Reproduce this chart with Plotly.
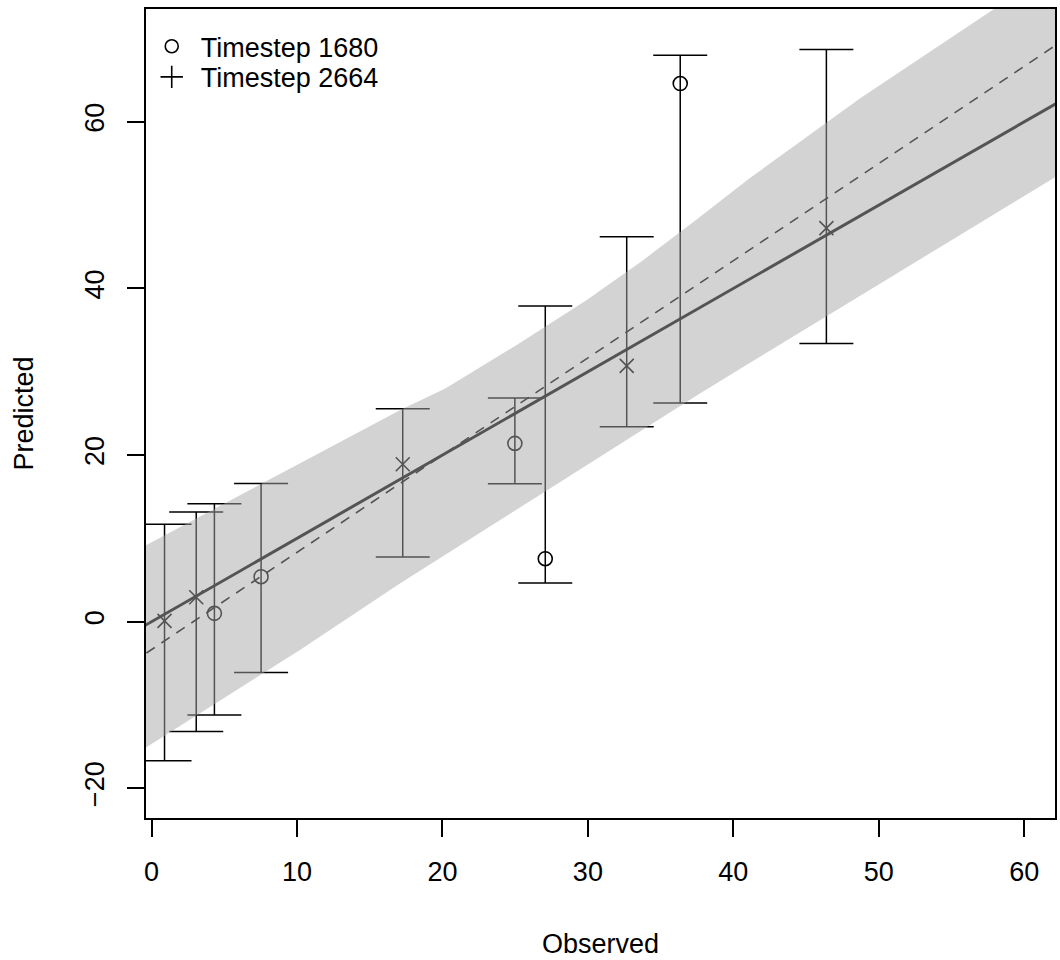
import plotly.graph_objects as go

# ---- data ----
obs_1680 = [4.32, 7.53, 24.98, 27.07, 36.35]
pred_1680 = [1.0, 5.4, 21.4, 7.56, 64.6]
upper_1680 = [14.17, 16.6, 26.85, 37.9, 68.0]
lower_1680 = [-11.2, -6.1, 16.57, 4.65, 26.25]

obs_2664 = [0.89, 3.07, 17.27, 32.67, 46.4]
pred_2664 = [0.1, 2.93, 18.9, 30.7, 47.25]
upper_2664 = [11.7, 13.17, 25.55, 46.2, 68.7]
lower_2664 = [-16.7, -13.2, 7.77, 23.4, 33.4]

# confidence band edges
band_up_x = [-1.0, 17.2, 20.2, 25.0, 29.9, 33.8, 37.5, 41.1, 44.9, 48.7, 57.8, 63.0]
band_up_y = [8.6, 25.5, 28.0, 33.1, 38.6, 43.4, 48.3, 53.2, 58.0, 62.8, 73.4, 79.4]
band_lo_x = [-1.0, 10.2, 17.1, 37.7, 63.0]
band_lo_y = [-15.8, -3.4, 4.6, 27.4, 54.3]

# reference lines (intercept, slope)
one_to_one = (0.0, 1.0)
fit_line = (-3.35, 1.167)

x_range = [-0.384, 62.12]
y_range = [-23.57, 73.55]
x_ticks = [0, 10, 20, 30, 40, 50, 60]
y_ticks = [-20, 0, 20, 40, 60]

FONT = "Liberation Sans, Arial, sans-serif"
FS = 27

fig = go.Figure()


def errbar(x, y, up, lo, symbol, size, name):
    fig.add_trace(go.Scatter(
        x=x, y=y, mode="markers", name=name, showlegend=False,
        marker=dict(symbol=symbol, size=size, color="black",
                    line=dict(color="black", width=1.6)),
        error_y=dict(type="data", symmetric=False,
                     array=[u - v for u, v in zip(up, y)],
                     arrayminus=[v - l for v, l in zip(y, lo)],
                     color="black", thickness=1.5, width=27),
    ))


errbar(obs_1680, pred_1680, upper_1680, lower_1680, "circle-open", 14, "Timestep 1680")
errbar(obs_2664, pred_2664, upper_2664, lower_2664, "x-thin-open", 14, "Timestep 2664")

# lines spanning the plot
lx = [x_range[0] - 1, x_range[1] + 1]
fig.add_trace(go.Scatter(x=lx, y=[one_to_one[0] + one_to_one[1] * v for v in lx],
                         mode="lines", line=dict(color="black", width=3),
                         showlegend=False, hoverinfo="skip"))
fig.add_trace(go.Scatter(x=lx, y=[fit_line[0] + fit_line[1] * v for v in lx],
                         mode="lines", line=dict(color="black", width=1.6, dash="10px,8px"),
                         showlegend=False, hoverinfo="skip"))

# band drawn on top (semi-transparent)
fig.add_trace(go.Scatter(x=band_up_x + band_lo_x[::-1], y=band_up_y + band_lo_y[::-1],
                         mode="lines", fill="toself", line=dict(width=0),
                         fillcolor="rgba(168,168,168,0.5)", showlegend=False,
                         hoverinfo="skip"))

# legend entries
fig.add_trace(go.Scatter(x=[None], y=[None], mode="markers", name="Timestep 1680",
                         marker=dict(symbol="circle-open", size=13, color="black",
                                     line=dict(color="black", width=1.6)),
                         legend="legend"))
fig.add_trace(go.Scatter(x=[None], y=[None], mode="markers", name="Timestep 2664",
                         marker=dict(symbol="cross-thin-open", size=20, color="black",
                                     line=dict(color="black", width=1.6)),
                         legend="legend2"))

axis_common = dict(showline=True, linecolor="black", linewidth=1.5, mirror=True,
                   ticks="outside", ticklen=17, tickwidth=1.5, tickcolor="black",
                   showgrid=False, zeroline=False,
                   tickfont=dict(family=FONT, size=FS, color="black"))

leg_common = dict(xanchor="left", yanchor="middle", itemwidth=48,
                  bgcolor="rgba(0,0,0,0)", font=dict(family=FONT, size=FS))

fig.update_layout(
    width=1060, height=960,
    margin=dict(l=146, r=3, t=9, b=142),
    paper_bgcolor="white", plot_bgcolor="white",
    font=dict(family=FONT, size=FS, color="black"),
    xaxis=dict(range=x_range, tickvals=x_ticks, ticklabelstandoff=12, **axis_common),
    yaxis=dict(range=y_range, tickvals=y_ticks, tickangle=-90, ticklabelstandoff=12,
               **axis_common),
    legend=dict(x=-0.0036, y=1 - 37.7 / 809, **leg_common),
    legend2=dict(x=-0.0036, y=1 - 68.3 / 809, **leg_common),
    annotations=[
        dict(text="Observed", x=0.5, y=0, xref="paper", yref="paper",
             xanchor="center", yanchor="middle", yshift=-126, showarrow=False,
             font=dict(family=FONT, size=FS)),
        dict(text="Predicted", x=0, y=0.5, xref="paper", yref="paper",
             xanchor="center", yanchor="middle", xshift=-123, textangle=-90,
             showarrow=False, font=dict(family=FONT, size=FS)),
    ],
)

fig.write_html("out.html")
